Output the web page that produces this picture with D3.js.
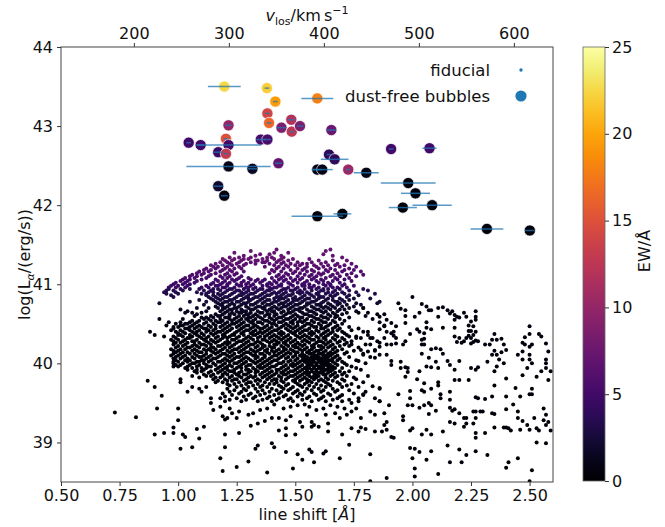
<!DOCTYPE html>
<html>
<head>
<meta charset="utf-8">
<script src="https://cdn.jsdelivr.net/npm/d3@7"></script>
<style>
  body { margin: 0; background: #fff; }
  text { font-family: "DejaVu Sans", sans-serif; fill: #111; }
</style>
</head>
<body>
<svg id="chart" width="665" height="527"></svg>
<script>
"use strict";

// dust-free bubbles: line shift [A], its error, log L, EW [A]
const bubbleShift = [1.197, 1.379, 1.415, 1.594, 1.381, 1.388, 1.215, 1.483, 1.441, 1.485, 1.520, 1.654, 1.045, 1.096, 1.204, 1.215, 1.353, 1.381, 1.171, 1.204, 1.215, 1.317, 1.428, 1.171, 1.197, 1.644, 1.668, 1.594, 1.615, 1.726, 1.803, 1.594, 1.701, 1.909, 2.073, 1.982, 2.013, 1.959, 2.084, 2.318, 2.501];
const bubbleShiftErr = [0.07, 0.01, 0.01, 0.068, 0.01, 0.01, 0.015, 0.015, 0.02, 0.01, 0.015, 0.02, 0.01, 0.015, 0.01, 0.139, 0.02, 0.015, 0.02, 0.01, 0.18, 0.02, 0.015, 0.02, 0.015, 0.01, 0.059, 0.02, 0.045, 0.01, 0.053, 0.11, 0.038, 0.01, 0.03, 0.117, 0.062, 0.06, 0.084, 0.07, 0.02];
const bubbleLogL = [43.50, 43.48, 43.31, 43.35, 43.16, 43.04, 43.01, 43.08, 42.98, 42.93, 43.00, 42.95, 42.79, 42.76, 42.84, 42.76, 42.83, 42.83, 42.67, 42.65, 42.49, 42.46, 42.53, 42.24, 42.12, 42.64, 42.58, 42.45, 42.45, 42.45, 42.41, 41.86, 41.89, 42.71, 42.72, 42.28, 42.15, 41.97, 42.00, 41.70, 41.68];
const bubbleEW = [22.5, 22, 19.5, 18, 14, 16.5, 10, 12, 8.5, 12.5, 8.5, 7.5, 5, 5, 15, 5, 5.5, 5.5, 4.5, 13, 1, 1.5, 7, 2, 0.8, 4, 4, 1, 1, 10.5, 1, 0.5, 0.5, 5, 5, 0.5, 0.5, 0.5, 0.5, 0.5, 0.5];

// fiducial sample, dense part: one row of line shifts for each log L value
const denseLogL = [
  41.44, 41.42, 41.40, 41.38, 41.36, 41.34, 41.32, 41.30, 41.28, 41.26,
  41.24, 41.22, 41.20, 41.18, 41.16, 41.14, 41.12, 41.10, 41.08, 41.06,
  41.04, 41.02, 41.00, 40.98, 40.96, 40.94, 40.92, 40.90, 40.88, 40.86,
  40.84, 40.82, 40.80, 40.78, 40.76, 40.74, 40.72, 40.70, 40.68, 40.66,
  40.64, 40.62, 40.60, 40.58, 40.56, 40.54, 40.52, 40.50, 40.48, 40.46,
  40.44, 40.42, 40.40, 40.38, 40.36, 40.34, 40.32, 40.30, 40.28, 40.26,
  40.24, 40.22, 40.20, 40.18, 40.16, 40.14, 40.12, 40.10, 40.08, 40.06,
  40.04, 40.02, 40.00, 39.98, 39.96, 39.94, 39.92, 39.90, 39.88, 39.86,
  39.84, 39.82, 39.80, 39.78, 39.76, 39.74, 39.72, 39.70, 39.68, 39.66,
  39.64, 39.62, 39.60, 39.58, 39.56, 39.54, 39.52];
const denseEW = [
  7, 7, 7, 7, 7, 7, 7, 7, 6.5, 6.5,
  6.5, 6.5, 6, 6, 6, 6, 5.5, 5.5, 5.5, 5,
  5, 5, 4.5, 4.5, 4.5, 3.5, 3.5, 3.5, 3, 3,
  3, 2.5, 2.5, 2.5, 2, 2, 2, 1.6, 1.6, 1.6,
  1.3, 1.3, 1.3, 1.3, 1, 1, 1, 1, 0.8, 0.8,
  0.8, 0.8, 0.6, 0.6, 0.6, 0.6, 0.6, 0.6, 0.5, 0.5,
  0.5, 0.5, 0.5, 0.5, 0.5, 0.5, 0.5, 0.5, 0.5, 0.5,
  0.5, 0.5, 0.5, 0.5, 0.5, 0.5, 0.5, 0.5, 0.5, 0.5,
  0.5, 0.5, 0.5, 0.5, 0.5, 0.5, 0.5, 0.5, 0.5, 0.5,
  0.5, 0.5, 0.5, 0.5, 0.5, 0.5, 0.5];
const denseShift = [
  [1.42, 1.65],
  [1.31, 1.63],
  [1.24, 1.41, 1.47],
  [1.35, 1.39, 1.62],
  [1.28, 1.33, 1.44, 1.66],
  [1.22, 1.26, 1.31, 1.38, 1.40, 1.45, 1.70],
  [1.19, 1.24, 1.28, 1.30, 1.36, 1.41, 1.44, 1.49, 1.56],
  [1.20, 1.23, 1.27, 1.33, 1.34, 1.38, 1.43, 1.47, 1.60, 1.66, 1.72],
  [1.18, 1.21, 1.26, 1.31, 1.36, 1.37, 1.42, 1.45, 1.51, 1.57, 1.63],
  [1.16, 1.22, 1.25, 1.29, 1.33, 1.39, 1.44, 1.48, 1.53, 1.55, 1.61, 1.68, 1.74],
  [1.14, 1.19, 1.23, 1.28, 1.41, 1.46, 1.50, 1.52, 1.58, 1.64, 1.67, 1.71],
  [1.15, 1.17, 1.21, 1.26, 1.37, 1.43, 1.47, 1.55, 1.59, 1.62, 1.69, 1.76],
  [1.12, 1.16, 1.20, 1.24, 1.27, 1.42, 1.45, 1.51, 1.54, 1.60, 1.65, 1.73],
  [1.11, 1.14, 1.19, 1.22, 1.40, 1.48, 1.53, 1.57, 1.63, 1.67, 1.71, 1.75],
  [1.09, 1.13, 1.18, 1.23, 1.28, 1.41, 1.44, 1.50, 1.55, 1.58, 1.64, 1.70, 1.78],
  [1.08, 1.11, 1.16, 1.21, 1.25, 1.39, 1.46, 1.49, 1.52, 1.60, 1.62, 1.68, 1.74],
  [1.06, 1.10, 1.14, 1.20, 1.24, 1.43, 1.47, 1.54, 1.57, 1.61, 1.66, 1.72, 1.79],
  [1.05, 1.08, 1.13, 1.18, 1.22, 1.27, 1.42, 1.45, 1.51, 1.56, 1.59, 1.65, 1.69, 1.76],
  [1.03, 1.07, 1.12, 1.19, 1.21, 1.26, 1.30, 1.40, 1.44, 1.48, 1.53, 1.58, 1.63, 1.67, 1.73],
  [1.02, 1.05, 1.10, 1.16, 1.23, 1.25, 1.31, 1.34, 1.37, 1.43, 1.46, 1.50, 1.52, 1.57, 1.61, 1.68, 1.71],
  [1.01, 1.04, 1.08, 1.17, 1.20, 1.24, 1.28, 1.33, 1.36, 1.41, 1.45, 1.49, 1.55, 1.59, 1.62, 1.66, 1.74],
  [0.99, 1.03, 1.07, 1.15, 1.19, 1.22, 1.27, 1.30, 1.35, 1.39, 1.42, 1.47, 1.51, 1.54, 1.60, 1.64, 1.69],
  [0.98, 1.02, 1.05, 1.14, 1.18, 1.21, 1.25, 1.29, 1.32, 1.38, 1.40, 1.44, 1.48, 1.53, 1.56, 1.62, 1.65, 1.71],
  [0.97, 1.00, 1.04, 1.12, 1.16, 1.17, 1.21, 1.26, 1.27, 1.31, 1.36, 1.38, 1.43, 1.44, 1.49, 1.53, 1.54, 1.58, 1.63, 1.65, 1.70, 1.75],
  [0.96, 0.99, 1.03, 1.10, 1.13, 1.19, 1.20, 1.24, 1.29, 1.30, 1.33, 1.39, 1.41, 1.42, 1.47, 1.51, 1.56, 1.57, 1.60, 1.66, 1.68, 1.72],
  [0.96, 1.01, 1.05, 1.09, 1.15, 1.17, 1.22, 1.23, 1.28, 1.32, 1.35, 1.36, 1.40, 1.45, 1.46, 1.50, 1.54, 1.59, 1.62, 1.64, 1.69, 1.79],
  [0.95, 0.98, 1.02, 1.11, 1.14, 1.18, 1.21, 1.25, 1.26, 1.30, 1.34, 1.38, 1.39, 1.44, 1.48, 1.49, 1.52, 1.57, 1.61, 1.62, 1.67, 1.73, 1.81],
  [0.94, 0.99, 1.08, 1.13, 1.15, 1.20, 1.24, 1.27, 1.29, 1.33, 1.37, 1.41, 1.43, 1.46, 1.51, 1.53, 1.55, 1.60, 1.64, 1.66, 1.70, 1.76],
  [0.95, 1.00, 1.10, 1.12, 1.17, 1.19, 1.23, 1.28, 1.31, 1.32, 1.36, 1.40, 1.42, 1.45, 1.49, 1.52, 1.56, 1.59, 1.63, 1.68, 1.71, 1.84],
  [0.97, 1.12, 1.15, 1.18, 1.22, 1.26, 1.27, 1.30, 1.35, 1.38, 1.39, 1.44, 1.47, 1.48, 1.54, 1.57, 1.60, 1.65, 1.67, 1.73, 1.77],
  [0.98, 1.13, 1.16, 1.20, 1.21, 1.25, 1.29, 1.33, 1.34, 1.37, 1.42, 1.43, 1.46, 1.50, 1.53, 1.58, 1.61, 1.62, 1.66, 1.72],
  [1.14, 1.17, 1.19, 1.24, 1.28, 1.30, 1.32, 1.36, 1.41, 1.44, 1.45, 1.49, 1.52, 1.55, 1.56, 1.60, 1.64, 1.69, 1.75, 1.82],
  [1.09, 1.15, 1.18, 1.22, 1.23, 1.27, 1.31, 1.35, 1.38, 1.39, 1.43, 1.47, 1.50, 1.51, 1.54, 1.59, 1.63, 1.66, 1.70, 1.73],
  [1.05, 1.12, 1.16, 1.20, 1.21, 1.25, 1.26, 1.30, 1.34, 1.37, 1.41, 1.42, 1.46, 1.49, 1.53, 1.57, 1.58, 1.62, 1.67, 1.68, 1.71, 1.86],
  [0.92, 1.17, 1.19, 1.23, 1.28, 1.29, 1.33, 1.36, 1.40, 1.44, 1.45, 1.48, 1.52, 1.55, 1.56, 1.61, 1.64, 1.69, 1.76, 1.85],
  [1.11, 1.18, 1.22, 1.24, 1.27, 1.31, 1.32, 1.38, 1.39, 1.43, 1.47, 1.50, 1.51, 1.55, 1.59, 1.60, 1.65, 1.68, 1.72, 1.78],
  [1.16, 1.19, 1.21, 1.26, 1.29, 1.34, 1.35, 1.37, 1.41, 1.45, 1.46, 1.49, 1.54, 1.57, 1.61, 1.63, 1.66, 1.70, 1.75],
  [1.08, 1.13, 1.17, 1.20, 1.24, 1.25, 1.30, 1.33, 1.36, 1.40, 1.42, 1.44, 1.48, 1.52, 1.53, 1.58, 1.62, 1.64, 1.67, 1.73, 1.79],
  [1.01, 1.19, 1.22, 1.23, 1.27, 1.31, 1.32, 1.37, 1.39, 1.43, 1.47, 1.50, 1.51, 1.55, 1.59, 1.60, 1.65, 1.69, 1.71],
  [1.04, 1.12, 1.18, 1.21, 1.25, 1.28, 1.29, 1.34, 1.38, 1.40, 1.41, 1.45, 1.49, 1.52, 1.56, 1.57, 1.61, 1.63, 1.68, 1.76],
  [1.03, 1.06, 1.10, 1.20, 1.23, 1.26, 1.27, 1.31, 1.35, 1.36, 1.41, 1.44, 1.47, 1.48, 1.53, 1.58, 1.62, 1.66, 1.72],
  [1.08, 1.16, 1.19, 1.22, 1.24, 1.29, 1.30, 1.33, 1.38, 1.39, 1.42, 1.46, 1.50, 1.54, 1.55, 1.59, 1.64, 1.67, 1.70],
  [1.07, 1.14, 1.17, 1.18, 1.22, 1.26, 1.28, 1.32, 1.34, 1.37, 1.41, 1.45, 1.49, 1.51, 1.56, 1.57, 1.61, 1.65, 1.68, 1.80],
  [1.10, 1.12, 1.15, 1.20, 1.21, 1.25, 1.30, 1.31, 1.35, 1.39, 1.43, 1.44, 1.48, 1.52, 1.53, 1.58, 1.62, 1.63, 1.67, 1.73],
  [0.92, 1.02, 1.11, 1.13, 1.18, 1.22, 1.24, 1.27, 1.29, 1.33, 1.36, 1.40, 1.42, 1.46, 1.47, 1.50, 1.55, 1.59, 1.60, 1.64, 1.69, 1.83],
  [1.06, 1.09, 1.14, 1.16, 1.19, 1.23, 1.26, 1.30, 1.32, 1.37, 1.38, 1.41, 1.45, 1.49, 1.52, 1.54, 1.57, 1.61, 1.66, 1.71],
  [0.96, 1.01, 1.05, 1.08, 1.12, 1.17, 1.18, 1.21, 1.25, 1.28, 1.31, 1.34, 1.35, 1.39, 1.43, 1.44, 1.48, 1.51, 1.53, 1.58, 1.62, 1.63, 1.67, 1.86],
  [0.99, 1.03, 1.04, 1.07, 1.11, 1.15, 1.20, 1.23, 1.24, 1.27, 1.32, 1.36, 1.40, 1.41, 1.46, 1.49, 1.55, 1.56, 1.60, 1.65, 1.70],
  [0.95, 1.01, 1.02, 1.06, 1.09, 1.13, 1.16, 1.19, 1.22, 1.26, 1.29, 1.30, 1.33, 1.38, 1.42, 1.45, 1.47, 1.51, 1.54, 1.57, 1.61, 1.64, 1.68, 1.88],
  [0.98, 1.00, 1.05, 1.08, 1.10, 1.14, 1.18, 1.21, 1.25, 1.28, 1.32, 1.34, 1.37, 1.40, 1.44, 1.48, 1.50, 1.53, 1.58, 1.59, 1.63, 1.67, 1.73],
  [0.98, 1.03, 1.04, 1.07, 1.11, 1.12, 1.16, 1.20, 1.23, 1.27, 1.31, 1.35, 1.36, 1.39, 1.43, 1.46, 1.49, 1.52, 1.56, 1.61, 1.62, 1.66, 1.69, 1.77],
  [0.97, 1.01, 1.05, 1.09, 1.13, 1.15, 1.19, 1.22, 1.26, 1.29, 1.30, 1.33, 1.38, 1.41, 1.42, 1.47, 1.51, 1.54, 1.55, 1.59, 1.64, 1.68, 1.74],
  [0.88, 0.99, 1.02, 1.06, 1.08, 1.12, 1.17, 1.18, 1.21, 1.25, 1.28, 1.32, 1.35, 1.37, 1.40, 1.44, 1.48, 1.50, 1.53, 1.57, 1.60, 1.63, 1.66, 1.70, 1.79],
  [1.00, 1.03, 1.07, 1.10, 1.14, 1.16, 1.20, 1.24, 1.27, 1.31, 1.34, 1.36, 1.39, 1.43, 1.45, 1.49, 1.52, 1.56, 1.58, 1.62, 1.65, 1.71],
  [0.90, 1.00, 1.01, 1.05, 1.08, 1.11, 1.15, 1.19, 1.23, 1.24, 1.28, 1.32, 1.33, 1.38, 1.41, 1.44, 1.47, 1.50, 1.54, 1.57, 1.61, 1.64, 1.67, 1.72, 1.81],
  [0.94, 0.98, 1.02, 1.06, 1.09, 1.13, 1.17, 1.20, 1.22, 1.26, 1.30, 1.35, 1.37, 1.40, 1.42, 1.46, 1.51, 1.53, 1.55, 1.59, 1.63, 1.68, 1.76],
  [0.99, 1.04, 1.05, 1.10, 1.12, 1.16, 1.19, 1.21, 1.25, 1.29, 1.31, 1.34, 1.39, 1.43, 1.45, 1.48, 1.52, 1.56, 1.60, 1.62, 1.66, 1.70, 1.78, 1.83],
  [0.97, 1.00, 1.03, 1.08, 1.11, 1.14, 1.18, 1.23, 1.24, 1.28, 1.32, 1.36, 1.37, 1.41, 1.44, 1.47, 1.50, 1.54, 1.57, 1.58, 1.63, 1.67, 1.71],
  [0.98, 1.02, 1.06, 1.07, 1.12, 1.15, 1.17, 1.21, 1.26, 1.27, 1.30, 1.34, 1.38, 1.40, 1.42, 1.46, 1.49, 1.53, 1.55, 1.60, 1.61, 1.65, 1.69, 1.74, 1.85],
  [0.99, 1.01, 1.04, 1.09, 1.13, 1.16, 1.20, 1.22, 1.25, 1.29, 1.33, 1.35, 1.39, 1.43, 1.45, 1.48, 1.51, 1.56, 1.59, 1.62, 1.64, 1.68, 1.72],
  [0.98, 1.03, 1.07, 1.10, 1.11, 1.14, 1.19, 1.21, 1.24, 1.28, 1.31, 1.32, 1.36, 1.41, 1.42, 1.46, 1.50, 1.52, 1.54, 1.58, 1.63, 1.66, 1.71, 1.80],
  [1.00, 1.02, 1.06, 1.08, 1.12, 1.17, 1.18, 1.23, 1.27, 1.30, 1.34, 1.37, 1.39, 1.44, 1.47, 1.49, 1.53, 1.57, 1.60, 1.61, 1.65, 1.69, 1.73],
  [0.99, 1.04, 1.05, 1.09, 1.14, 1.15, 1.20, 1.22, 1.26, 1.29, 1.33, 1.36, 1.40, 1.41, 1.45, 1.50, 1.51, 1.55, 1.58, 1.62, 1.64, 1.67, 1.77],
  [0.97, 1.01, 1.03, 1.07, 1.11, 1.13, 1.16, 1.19, 1.24, 1.25, 1.28, 1.31, 1.35, 1.38, 1.43, 1.46, 1.48, 1.52, 1.54, 1.57, 1.61, 1.66, 1.70],
  [0.98, 1.00, 1.06, 1.08, 1.12, 1.14, 1.18, 1.21, 1.23, 1.27, 1.32, 1.34, 1.37, 1.40, 1.42, 1.45, 1.49, 1.53, 1.56, 1.59, 1.60, 1.63, 1.68, 1.75, 1.84],
  [0.99, 1.02, 1.04, 1.09, 1.10, 1.15, 1.17, 1.22, 1.26, 1.29, 1.30, 1.33, 1.38, 1.41, 1.44, 1.47, 1.50, 1.51, 1.55, 1.58, 1.62, 1.65, 1.67, 1.72],
  [0.98, 1.01, 1.05, 1.07, 1.12, 1.16, 1.19, 1.20, 1.24, 1.28, 1.31, 1.35, 1.36, 1.39, 1.43, 1.46, 1.48, 1.53, 1.56, 1.57, 1.60, 1.61, 1.64, 1.66, 1.71, 1.79],
  [0.97, 1.00, 1.03, 1.08, 1.11, 1.14, 1.18, 1.21, 1.23, 1.27, 1.32, 1.33, 1.37, 1.41, 1.42, 1.45, 1.50, 1.52, 1.54, 1.58, 1.59, 1.62, 1.63, 1.65, 1.68],
  [0.99, 1.02, 1.06, 1.09, 1.10, 1.13, 1.17, 1.22, 1.25, 1.26, 1.29, 1.34, 1.37, 1.40, 1.44, 1.47, 1.49, 1.53, 1.55, 1.57, 1.60, 1.62, 1.64, 1.67, 1.73, 1.82],
  [0.98, 1.01, 1.04, 1.07, 1.12, 1.15, 1.16, 1.20, 1.24, 1.28, 1.30, 1.33, 1.36, 1.39, 1.43, 1.46, 1.51, 1.54, 1.56, 1.58, 1.59, 1.61, 1.63, 1.66, 1.69],
  [0.99, 1.03, 1.05, 1.10, 1.11, 1.14, 1.19, 1.21, 1.23, 1.27, 1.31, 1.35, 1.38, 1.41, 1.42, 1.48, 1.50, 1.53, 1.55, 1.57, 1.60, 1.62, 1.64, 1.65, 1.68, 1.76],
  [0.98, 1.00, 1.04, 1.08, 1.09, 1.13, 1.17, 1.18, 1.22, 1.26, 1.29, 1.32, 1.34, 1.37, 1.40, 1.45, 1.47, 1.52, 1.54, 1.56, 1.58, 1.60, 1.61, 1.63, 1.66, 1.70],
  [0.98, 1.02, 1.06, 1.07, 1.11, 1.15, 1.20, 1.24, 1.25, 1.28, 1.33, 1.36, 1.39, 1.43, 1.44, 1.49, 1.51, 1.55, 1.57, 1.59, 1.61, 1.62, 1.64, 1.67, 1.71, 1.80],
  [0.99, 1.01, 1.05, 1.09, 1.12, 1.16, 1.19, 1.22, 1.27, 1.30, 1.31, 1.35, 1.38, 1.42, 1.46, 1.48, 1.50, 1.53, 1.56, 1.57, 1.59, 1.62, 1.63, 1.65, 1.68],
  [0.98, 1.00, 1.04, 1.08, 1.13, 1.14, 1.18, 1.21, 1.23, 1.26, 1.29, 1.34, 1.37, 1.40, 1.41, 1.45, 1.49, 1.52, 1.55, 1.58, 1.60, 1.61, 1.64, 1.66, 1.74],
  [1.03, 1.06, 1.10, 1.12, 1.17, 1.20, 1.25, 1.27, 1.32, 1.35, 1.36, 1.39, 1.44, 1.47, 1.51, 1.54, 1.56, 1.58, 1.60, 1.62, 1.65, 1.67, 1.70],
  [1.04, 1.08, 1.11, 1.16, 1.19, 1.21, 1.24, 1.29, 1.30, 1.33, 1.38, 1.42, 1.43, 1.46, 1.50, 1.53, 1.55, 1.57, 1.59, 1.61, 1.63, 1.64, 1.66, 1.78],
  [1.07, 1.10, 1.14, 1.18, 1.22, 1.23, 1.27, 1.31, 1.34, 1.37, 1.40, 1.45, 1.48, 1.49, 1.52, 1.55, 1.57, 1.59, 1.62, 1.65, 1.69, 1.73],
  [1.08, 1.13, 1.17, 1.20, 1.24, 1.26, 1.30, 1.33, 1.36, 1.39, 1.42, 1.44, 1.47, 1.51, 1.54, 1.56, 1.58, 1.60, 1.61, 1.64, 1.67, 1.71],
  [1.11, 1.15, 1.19, 1.21, 1.25, 1.28, 1.29, 1.35, 1.38, 1.41, 1.45, 1.46, 1.50, 1.53, 1.55, 1.59, 1.62, 1.63, 1.66, 1.70],
  [1.06, 1.12, 1.14, 1.19, 1.23, 1.26, 1.31, 1.33, 1.37, 1.40, 1.43, 1.48, 1.49, 1.52, 1.56, 1.58, 1.60, 1.65, 1.68, 1.72, 1.81],
  [1.09, 1.16, 1.18, 1.22, 1.27, 1.30, 1.32, 1.36, 1.39, 1.44, 1.47, 1.51, 1.54, 1.57, 1.59, 1.63, 1.67, 1.75],
  [1.01, 1.15, 1.20, 1.24, 1.25, 1.29, 1.34, 1.38, 1.41, 1.42, 1.46, 1.50, 1.53, 1.55, 1.58, 1.61, 1.64, 1.70, 1.76],
  [1.17, 1.21, 1.23, 1.28, 1.33, 1.35, 1.40, 1.44, 1.49, 1.52, 1.56, 1.60, 1.62, 1.66, 1.71],
  [1.01, 1.16, 1.19, 1.26, 1.30, 1.31, 1.37, 1.42, 1.45, 1.50, 1.55, 1.57, 1.63, 1.68, 1.79],
  [1.21, 1.24, 1.29, 1.34, 1.39, 1.41, 1.47, 1.51, 1.54, 1.59, 1.64, 1.69, 1.74],
  [1.22, 1.27, 1.32, 1.36, 1.43, 1.46, 1.52, 1.56, 1.61, 1.65, 1.72],
  [1.06, 1.12, 1.25, 1.30, 1.35, 1.38, 1.44, 1.49, 1.53, 1.58, 1.63, 1.70, 1.77],
  [1.09, 1.21, 1.28, 1.33, 1.40, 1.45, 1.48, 1.55, 1.60, 1.66, 1.86],
  [1.24, 1.29, 1.36, 1.42, 1.47, 1.51, 1.57, 1.62, 1.68, 1.73],
  [1.04, 1.10, 1.22, 1.27, 1.34, 1.39, 1.44, 1.50, 1.54, 1.61, 1.67, 1.80],
  [1.19, 1.26, 1.31, 1.37, 1.43, 1.49, 1.52, 1.58, 1.64, 1.75],
  [1.23, 1.30, 1.35, 1.41, 1.46, 1.53, 1.59, 1.65, 1.70, 1.79],
  [1.20, 1.28, 1.33, 1.39, 1.45, 1.51, 1.56, 1.62, 1.69],
  [1.14, 1.18, 1.25, 1.32, 1.38, 1.43, 1.48, 1.55, 1.61, 1.68, 1.77, 1.84],
  [1.22, 1.29, 1.36, 1.42, 1.47, 1.53, 1.60, 1.66, 1.73],
  [1.20, 1.27, 1.34, 1.40, 1.49, 1.57, 1.63, 1.70, 1.86]
];

// fiducial sample, sparse outskirts: [line shift, log L] per group, one EW per group
const sparseEW = [0.6, 0.4, 0.4, 0.4];
const sparsePoints = [
  // right of the core, upper half
  [[1.81,40.64],[1.85,40.62],[1.86,40.59],[1.88,40.62],[1.89,40.55],[1.91,40.51],[1.88,40.47],[1.86,40.43],[1.89,40.40],[1.91,40.38],
   [1.88,40.32],[1.86,40.26],[1.86,40.21],[1.89,40.24],[1.82,40.24],[1.84,40.17],[1.81,40.15],[1.84,40.07],[1.86,40.11],[1.89,40.11],
   [1.91,40.03],[1.91,39.98],[1.81,40.40],[1.82,40.32],[1.77,40.64],[1.79,40.70],[1.77,40.03],[1.79,40.11],[1.78,40.17],[1.76,40.32],
   [1.73,40.34],[1.74,40.24],[1.72,39.98],[1.76,39.94],
   [2.00,40.84],[1.94,40.76],[1.95,40.69],[1.97,40.67],[1.97,40.60],[2.01,40.59],[2.03,40.64],[2.04,40.75],[2.06,40.72],[2.07,40.67],
   [2.08,40.67],[2.11,40.70],[2.13,40.71],[2.11,40.59],[2.15,40.67],[2.16,40.63],[2.17,40.66],[2.18,40.61],[2.19,40.59],[2.20,40.58],
   [2.22,40.64],[2.23,40.59],[2.27,40.66],[2.27,40.59],[2.27,40.55],[2.25,40.53],[2.24,40.48],[2.26,40.47],[2.25,40.41],[2.27,40.40],
   [2.26,40.36],[2.27,40.29],[2.26,40.27],[2.25,40.32],[2.24,40.35],[2.24,40.41],[2.18,40.55],[2.18,40.45],[2.13,40.45],[2.08,40.43],
   [2.06,40.52],[2.06,40.45],[2.02,40.43],[2.03,40.40],[2.05,40.38],[1.99,40.37],[1.97,40.51],[1.93,40.47],[1.92,40.40],[1.92,40.35],
   [1.93,40.32],[1.91,40.24],[1.93,40.25],[1.97,40.28],[1.96,40.24],[2.04,40.30],[2.05,40.31],[2.04,40.24],[2.05,40.24],[2.08,40.18],
   [2.10,40.19],[2.12,40.18],[2.13,40.12],[2.04,40.12],[2.07,40.07],[2.10,40.02],[2.15,40.03],[2.20,40.03],[2.16,39.98],[1.95,40.02],
   [1.97,39.95],[1.98,39.94],[2.18,40.34],[2.20,40.32],[2.19,40.27],[2.21,40.26],[2.22,40.28],[2.23,40.32],[2.25,40.25],[2.28,40.28],
   [2.31,40.24],[2.33,40.24],[2.35,40.37],[2.34,40.30],[2.36,40.30],[2.38,40.31],[2.39,40.24],[2.40,40.17],[2.38,40.14],[2.35,40.16],
   [2.36,40.11],[2.34,40.11],[2.37,40.05],[2.39,40.00],[2.32,40.02],[2.28,39.95],[2.25,39.94],[2.45,40.11],[2.47,40.05],[2.47,40.15],
   [2.47,40.26],[2.48,40.33],[2.50,40.47],[2.50,40.37],[2.48,40.24],[2.50,40.21],[2.51,40.24],[2.50,40.11],[2.50,40.05],[2.51,40.00],
   [2.54,40.37],[2.55,40.34],[2.57,40.25],[2.58,40.15],[2.57,40.05],[2.57,40.00]],
  // right, lower half
  [[1.95,39.94],[1.97,39.83],[1.98,39.89],[2.03,39.90],[2.06,39.96],[2.08,39.95],[2.11,39.94],[2.02,39.80],[2.05,39.75],[2.04,39.66],
   [2.05,39.64],[2.08,39.68],[2.11,39.76],[2.11,39.72],[2.12,39.61],[2.12,39.56],[2.16,39.64],[2.16,39.54],[1.94,39.61],[1.99,39.65],
   [1.99,39.56],[1.98,39.47],[2.00,39.47],[2.03,39.44],[2.05,39.47],[2.07,39.50],[2.08,39.47],[2.10,39.40],[2.07,39.36],[2.16,39.44],
   [2.17,39.40],[2.18,39.42],[2.20,39.37],[2.22,39.31],[2.23,39.31],[2.23,39.24],[2.22,39.20],[2.18,39.92],[2.20,39.79],[2.18,39.79],
   [2.24,39.79],[2.27,39.92],[2.27,39.57],[2.28,39.56],[2.31,39.55],[2.34,39.58],[2.35,39.72],[2.35,39.90],[2.36,39.96],[2.40,39.81],
   [2.40,39.58],[2.44,39.69],[2.46,39.58],[2.47,39.85],[2.49,39.94],[2.50,39.61],[2.51,39.61],[2.51,39.68],[2.53,39.83],[2.55,39.90],
   [2.57,39.94],[2.58,39.79],[2.59,39.90],[1.96,39.33],[1.96,39.28],[1.92,39.06],[1.99,39.15],[2.00,39.18],[2.04,39.10],[2.08,39.10],
   [2.06,39.16],[2.13,39.14],[2.16,39.26],[2.18,39.24],[2.26,39.39],[2.27,39.39],[2.27,39.31],[2.26,39.24],[2.27,39.12],[2.27,39.06],
   [2.31,39.12],[2.29,39.39],[2.30,39.39],[2.34,39.37],[2.35,39.36],[2.35,39.19],[2.39,39.19],[2.40,39.19],[2.41,39.18],[2.42,39.15],
   [2.40,39.42],[2.43,39.48],[2.45,39.39],[2.45,39.31],[2.47,39.27],[2.46,39.16],[2.50,39.16],[2.49,39.22],[2.52,39.31],[2.53,39.18],
   [2.54,39.15],[2.56,39.43],[2.57,39.35],[2.56,39.28],[2.57,39.22],[2.58,39.26],[2.59,39.15],[2.53,39.00],[2.57,38.99],[1.99,38.93],
   [2.01,38.92],[2.03,38.88],[2.08,38.89],[2.15,38.96],[2.20,38.91],[2.23,38.84],[2.27,38.89],[2.32,38.84],[2.00,38.80],[2.01,38.67],
   [2.01,38.57],[2.06,38.78],[2.11,38.60],[2.16,38.75],[2.21,38.75],[2.41,38.75],[2.40,38.68],[2.45,38.80],[2.51,38.65],[2.50,38.51]],
  // below the core
  [[1.26,39.12],[1.25,38.69],[1.30,38.76],[1.33,38.92],[1.34,38.96],[1.40,38.99],[1.41,38.94],[1.38,38.62],[1.43,39.15],[1.46,39.18],
   [1.46,39.09],[1.46,38.88],[1.50,39.10],[1.51,38.85],[1.53,38.78],[1.56,38.91],[1.57,38.88],[1.58,38.75],[1.49,38.67],[1.62,38.86],
   [1.63,38.89],[1.69,38.80],[1.70,39.10],[1.64,39.14],[1.60,39.20],[1.57,39.20],[1.53,39.20],[1.58,39.22],[1.64,39.24],[1.73,38.97],
   [1.74,39.18],[1.77,39.14],[1.78,39.19],[1.80,39.17],[1.82,38.85],[1.84,39.14],[1.87,39.14],[1.88,39.22],[1.89,39.16],[1.91,39.07],
   [1.89,38.55],[1.82,38.51],[1.31,39.21],[1.34,39.24],[1.37,39.27],[1.40,39.31],[1.43,39.31],[1.46,39.28],[1.48,39.33],[1.52,39.26],
   [1.55,39.35],[1.57,39.26],[1.63,39.35],[1.67,39.37],[1.69,39.31],[1.72,39.35],[1.74,39.39],[1.78,39.31],[1.82,39.39],[1.84,39.35],
   [1.88,39.37],[1.89,39.26],[1.90,39.47],[1.86,39.52],[1.86,39.69],[1.83,39.71],[1.79,39.61],[1.77,39.52],[1.74,39.50],[1.76,39.43],
   [1.71,39.43],[1.68,39.45],[1.65,39.47],[1.62,39.43],[1.59,39.41],[1.56,39.45],[1.54,39.48],[1.51,39.47],[1.48,39.45],[1.45,39.43],
   [1.41,39.48],[1.38,39.43],[1.35,39.41],[1.32,39.37],[1.30,39.35],[1.26,39.39],[1.23,39.37],[1.21,39.31],[1.25,39.31],[1.22,39.43]],
  // left of the core
  [[0.73,39.38],[0.82,39.32],[0.87,39.78],[0.90,39.70],[0.93,39.59],[0.91,39.43],[1.00,39.43],[1.00,39.28],[0.98,39.19],[0.98,39.12],
   [0.94,39.12],[0.90,39.10],[1.02,39.10],[1.03,39.07],[1.01,38.92],[1.06,38.94],[1.08,39.17],[1.11,39.20],[1.09,39.05],[1.18,38.80],
   [1.19,38.64],[1.20,39.10],[1.20,38.94],[1.15,39.41],[1.14,39.50],[1.19,39.33],[1.20,39.29],[1.18,39.45]]
];

const xTicks = [0.50, 0.75, 1.00, 1.25, 1.50, 1.75, 2.00, 2.25, 2.50];
const yTicks = [39, 40, 41, 42, 43, 44];
const vTicks = [200, 300, 400, 500, 600];
const ewTicks = [0, 5, 10, 15, 20, 25];
const legendLabels = ["fiducial", "dust-free bubbles"];

// Lyman alpha rest wavelength and speed of light for the top axis
const LYA = 1215.67;
const C_KMS = 299792.458;

const svg = d3.select("#chart");
const box = {left: 61, right: 553, top: 47, bottom: 482};

const x = d3.scaleLinear().domain([0.5, 2.6]).range([box.left, box.right]);
const y = d3.scaleLinear().domain([38.5, 44]).range([box.bottom, box.top]);
const xTop = d3.scaleLinear().domain(x.domain().map(d => d * C_KMS / LYA)).range(x.range());
const color = d3.scaleSequential(d3.interpolateInferno).domain([0, 25]);

svg.append("defs").append("clipPath").attr("id", "plotclip")
  .append("rect").attr("x", box.left).attr("y", box.top)
  .attr("width", box.right - box.left).attr("height", box.bottom - box.top);

// fiducial points
const fiducial = [];
denseLogL.forEach((L, i) => denseShift[i].forEach(s => fiducial.push({s: s, L: L, ew: denseEW[i]})));
sparsePoints.forEach((grp, g) => grp.forEach(p => fiducial.push({s: p[0], L: p[1], ew: sparseEW[g]})));

const plot = svg.append("g").attr("clip-path", "url(#plotclip)");
plot.append("g").selectAll("circle").data(fiducial).enter().append("circle")
  .attr("cx", d => x(d.s)).attr("cy", d => y(d.L)).attr("r", 2)
  .attr("fill", d => color(d.ew));

// bubbles
const bubbles = bubbleShift.map((s, i) => ({s: s, err: bubbleShiftErr[i], L: bubbleLogL[i], ew: bubbleEW[i]}));
plot.append("g").selectAll("circle").data(bubbles).enter().append("circle")
  .attr("cx", d => x(d.s)).attr("cy", d => y(d.L)).attr("r", 5.6)
  .attr("fill", d => color(d.ew)).attr("stroke", "#fff").attr("stroke-width", 0.7);

plot.append("g").selectAll("line").data(bubbles).enter().append("line")
  .attr("x1", d => x(d.s - d.err)).attr("x2", d => x(d.s + d.err))
  .attr("y1", d => y(d.L)).attr("y2", d => y(d.L))
  .attr("stroke", "#1f77b4").attr("stroke-opacity", 0.75).attr("stroke-width", 1.5);

// axes
function styleAxis(g) {
  g.select(".domain").remove();
  g.selectAll(".tick line").attr("stroke", "#333");
  g.selectAll(".tick text").style("font-size", "16px").style("font-family", "DejaVu Sans").attr("fill", "#111");
}

svg.append("g").attr("transform", "translate(0," + box.bottom + ")")
  .call(d3.axisBottom(x).tickValues(xTicks).tickFormat(d3.format(".2f")).tickSize(4).tickPadding(4))
  .call(styleAxis);
svg.append("g").attr("transform", "translate(" + box.left + ",0)")
  .call(d3.axisLeft(y).tickValues(yTicks).tickFormat(d3.format("d")).tickSize(4).tickPadding(4))
  .call(styleAxis);
svg.append("g").attr("transform", "translate(0," + box.top + ")")
  .call(d3.axisTop(xTop).tickValues(vTicks).tickFormat(d3.format("d")).tickSize(4).tickPadding(4))
  .call(styleAxis);

svg.append("rect").attr("x", box.left).attr("y", box.top)
  .attr("width", box.right - box.left).attr("height", box.bottom - box.top)
  .attr("fill", "none").attr("stroke", "#444").attr("stroke-width", 1);

// axis labels
const xLabel = svg.append("text").attr("x", (box.left + box.right) / 2).attr("y", 520)
  .attr("text-anchor", "middle").style("font-size", "16px");
xLabel.append("tspan").text("line shift [");
xLabel.append("tspan").style("font-style", "italic").text("Å");
xLabel.append("tspan").text("]");

const topLabel = svg.append("text").attr("x", (box.left + box.right) / 2).attr("y", 21)
  .attr("text-anchor", "middle").style("font-size", "16px");
topLabel.append("tspan").style("font-style", "italic").text("v");
topLabel.append("tspan").attr("dy", 4).style("font-size", "11px").text("los");
topLabel.append("tspan").attr("dy", -4).text("/km\u2009s");
topLabel.append("tspan").attr("dy", -7).style("font-size", "11px").text("\u22121");

const yLabel = svg.append("text")
  .attr("transform", "translate(30," + (box.top + box.bottom) / 2 + ") rotate(-90)")
  .attr("text-anchor", "middle").style("font-size", "16px");
yLabel.append("tspan").text("log(L");
yLabel.append("tspan").attr("dy", 4).style("font-size", "11px").style("font-style", "italic").text("α");
yLabel.append("tspan").attr("dy", -4).text("/(erg/s))");

// legend
const legend = svg.append("g");
legendLabels.forEach((lab, i) => {
  const ly = 70 + i * 26;
  legend.append("text").attr("x", 490).attr("y", ly).attr("dy", "0.35em")
    .attr("text-anchor", "end").style("font-size", "16.5px").text(lab);
  legend.append("circle").attr("cx", 521).attr("cy", ly).attr("r", i === 0 ? 1.7 : 5.6)
    .attr("fill", "#1f77b4");
});

// colorbar
const cb = {x: 583, w: 22, top: 47, bottom: 481};
const cbScale = d3.scaleLinear().domain([0, 25]).range([cb.bottom, cb.top]);
const grad = svg.select("defs").append("linearGradient").attr("id", "cbgrad")
  .attr("x1", "0%").attr("y1", "100%").attr("x2", "0%").attr("y2", "0%");
d3.range(0, 1.0001, 0.05).forEach(t => {
  grad.append("stop").attr("offset", (t * 100) + "%").attr("stop-color", d3.interpolateInferno(t));
});
svg.append("rect").attr("x", cb.x).attr("y", cb.top).attr("width", cb.w).attr("height", cb.bottom - cb.top)
  .attr("fill", "url(#cbgrad)").attr("stroke", "#666").attr("stroke-width", 0.8);
svg.append("g").attr("transform", "translate(" + (cb.x + cb.w) + ",0)")
  .call(d3.axisRight(cbScale).tickValues(ewTicks).tickSize(4).tickPadding(3))
  .call(styleAxis);

svg.append("text")
  .attr("transform", "translate(650," + ((cb.top + cb.bottom) / 2 - 13) + ") rotate(-90)")
  .attr("text-anchor", "middle").style("font-size", "16px").text("EW/Å");
</script>
</body>
</html>
